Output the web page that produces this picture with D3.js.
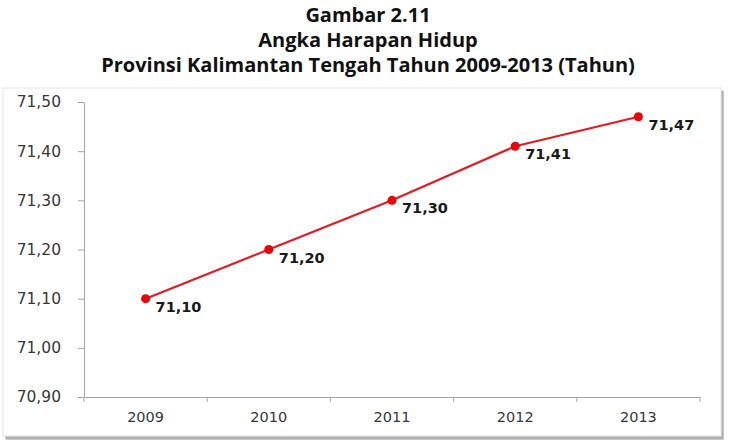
<!DOCTYPE html>
<html>
<head>
<meta charset="utf-8">
<script src="https://cdn.jsdelivr.net/npm/d3@7"></script>
<style>
  body { margin: 0; background: #fff; }
  svg { display: block; }
  .axis path, .axis line { stroke: #a6a6a6; }
  .axis text { font-family: "DejaVu Sans", Verdana, sans-serif; fill: #383838; }
  .axis.y text { font-size: 15.5px; }
  .axis.x text { font-size: 14.5px; }
</style>
</head>
<body>
<div class="chart"></div>
<script>
const titleLines = ["Gambar 2.11", "Angka Harapan Hidup", "Provinsi Kalimantan Tengah Tahun 2009-2013 (Tahun)"];
const years = ["2009", "2010", "2011", "2012", "2013"];
const lifeExpectancy = [71.10, 71.20, 71.30, 71.41, 71.47];
const yTicks = [70.90, 71.00, 71.10, 71.20, 71.30, 71.40, 71.50];

const width = 735, height = 444;
const plot = { left: 84, right: 700, top: 102, bottom: 397 };

const svg = d3.select(".chart").append("svg")
  .attr("width", width)
  .attr("height", height);

// title
svg.append("g")
  .selectAll("text")
  .data(titleLines)
  .join("text")
  .attr("x", 368)
  .attr("y", (d, i) => 21.5 + i * 25)
  .attr("text-anchor", "middle")
  .attr("font-family", "'Open Sans', sans-serif")
  .attr("font-weight", "bold")
  .attr("font-size", 20)
  .attr("fill", "#111")
  .text((d) => d);

// chart box with soft shadow
svg.append("rect").attr("x", 6).attr("y", 91).attr("width", 718).attr("height", 349).attr("fill", "#c8c8c8");
svg.append("rect").attr("x", 5).attr("y", 90).attr("width", 718).attr("height", 349).attr("fill", "#9a9a9a").attr("opacity", 0.5);
svg.append("rect").attr("x", 3).attr("y", 88).attr("width", 718).attr("height", 348)
  .attr("fill", "#fff").attr("stroke", "#e6e6e6");

const x = d3.scaleBand().domain(years).range([plot.left, plot.right]);
const y = d3.scaleLinear().domain([70.9, 71.5]).range([plot.bottom, plot.top]);
const fmt = (v) => d3.format(".2f")(v).replace(".", ",");

svg.append("g")
  .attr("class", "axis y")
  .attr("transform", `translate(${plot.left},0)`)
  .call(d3.axisLeft(y).tickValues(yTicks).tickFormat(fmt).tickSize(6).tickSizeOuter(0).tickPadding(17));

const xAxis = svg.append("g")
  .attr("class", "axis x")
  .attr("transform", `translate(0,${plot.bottom})`)
  .call(d3.axisBottom(x).tickSize(0).tickSizeOuter(0).tickPadding(15));
// ticks between categories
xAxis.selectAll(".sep")
  .data(d3.range(years.length + 1))
  .join("line")
  .attr("class", "sep")
  .attr("x1", (i) => plot.left + i * x.step())
  .attr("x2", (i) => plot.left + i * x.step())
  .attr("y1", 0)
  .attr("y2", 5)
  .attr("stroke", "#a6a6a6");

const cx = (d, i) => x(years[i]) + x.bandwidth() / 2;

svg.append("path")
  .datum(lifeExpectancy)
  .attr("fill", "none")
  .attr("stroke", "#e31b23")
  .attr("stroke-width", 2.2)
  .attr("d", d3.line().x(cx).y((d) => y(d)));

svg.append("g")
  .selectAll("circle")
  .data(lifeExpectancy)
  .join("circle")
  .attr("cx", cx)
  .attr("cy", (d) => y(d))
  .attr("r", 4.5)
  .attr("fill", "#f00000");

svg.append("g")
  .selectAll("text")
  .data(lifeExpectancy)
  .join("text")
  .attr("x", (d, i) => cx(d, i) + 10)
  .attr("y", (d) => y(d) + 13)
  .attr("font-family", "'DejaVu Sans', Verdana, sans-serif")
  .attr("font-weight", "bold")
  .attr("font-size", 14.5)
  .attr("fill", "#1a1a1a")
  .text(fmt);
</script>
</body>
</html>
